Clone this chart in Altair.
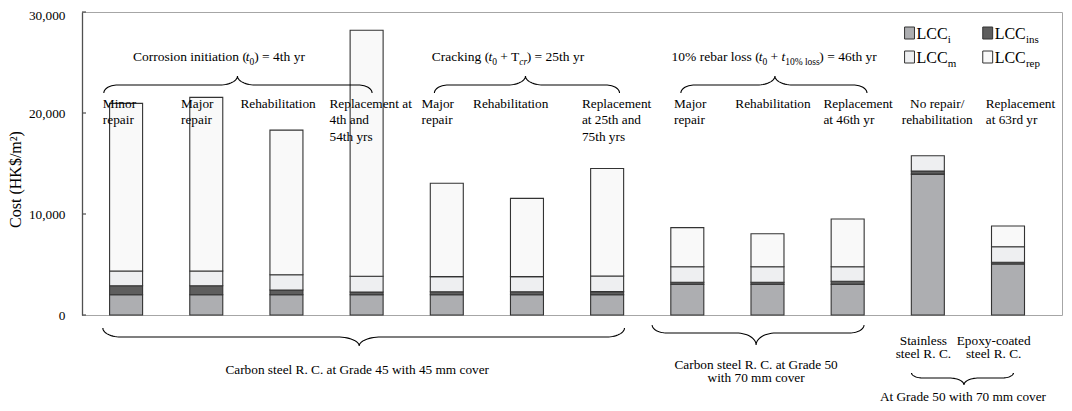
import math
import altair as alt
import pandas as pd

# ---------------- data ----------------
categories = [
    "Minor repair", "Major repair", "Rehabilitation", "Replacement at 4th and 54th yrs",
    "Major repair", "Rehabilitation", "Replacement at 25th and 75th yrs",
    "Major repair", "Rehabilitation", "Replacement at 46th yr",
    "No repair/rehabilitation", "Replacement at 63rd yr",
]
lcc_i = [2000, 2000, 2000, 2000, 2000, 2000, 2000, 3050, 3050, 3050, 13950, 5050]
lcc_ins = [900, 900, 480, 280, 300, 300, 310, 190, 190, 290, 310, 170]
lcc_m = [1450, 1450, 1510, 1550, 1500, 1500, 1550, 1540, 1540, 1440, 1510, 1540]
lcc_rep = [16600, 17200, 14310, 24370, 9250, 7750, 10640, 3870, 3270, 4720, 0, 2050]
components = ["LCCi", "LCCins", "LCCm", "LCCrep"]
component_subs = ["i", "ins", "m", "rep"]
y_ticks = [0, 10000, 20000, 30000]

bar_labels = [
    "Minor\nrepair", "Major\nrepair", "Rehabilitation", "Replacement at\n4th and\n54th yrs",
    "Major\nrepair", "Rehabilitation", "Replacement\nat 25th and\n75th yrs",
    "Major\nrepair", "Rehabilitation", "Replacement\nat 46th yr",
    "No repair/\nrehabilitation", "Replacement\nat 63rd yr",
]
group_titles = [
    [("Corrosion initiation (", "n"), ("t", "i"), ("0", "s"), (") = 4th yr", "n")],
    [("Cracking (", "n"), ("t", "i"), ("0", "s"), (" + T", "n"), ("cr", "si"), (") = 25th yr", "n")],
    [("10% rebar loss (", "n"), ("t", "i"), ("0", "s"), (" + ", "n"), ("t", "i"),
     ("10% loss", "s"), (") = 46th yr", "n")],
]
bottom_texts = [
    "Carbon steel R. C. at Grade 45 with 45 mm cover",
    "Carbon steel R. C. at Grade 50\nwith 70 mm cover",
    "Stainless\nsteel R. C.",
    "Epoxy-coated\nsteel R. C.",
    "At Grade 50 with 70 mm cover",
]

# ---------------- layout / style ----------------
FONT = "Liberation Serif"
W, H = 980, 303
PLOT_LEFT, PLOT_TOP = 82, 12          # page pixels of the plot origin
STEP, FIRST = 81.0, 121.5             # bar spacing and first bar centre (page px)
XD0 = 1 - (FIRST - PLOT_LEFT) / STEP
XD1 = XD0 + W / STEP
YMAX = 30000
colors = ["#adaeb1", "#5e5e5e", "#eeeff1", "#f9f9f9"]


def xi(px):
    return XD0 + (px - PLOT_LEFT) / STEP


def yv(py):
    return (PLOT_TOP + H - py) * YMAX / H


xscale = alt.Scale(domain=[XD0, XD1], nice=False, zero=False)
yscale = alt.Scale(domain=[0, YMAX], nice=False)
yaxis = alt.Axis(values=y_ticks, labelExpr="format(datum.value, ',')", title="Cost (HK$/m²)",
                 ticks=False, tickSize=0,
                 labelOffset={"condition": {"test": "datum.value >= 30000", "value": 3}, "value": 0},
                 labelPadding=17, domainColor="#505050", domainWidth=1.3, grid=False,
                 labelFont=FONT, labelFontSize=13.3, labelColor="black",
                 titleFont=FONT, titleFontSize=16, titleFontWeight="normal", titleColor="black",
                 titleX=-67, titleY=167, titleBaseline="middle")

# Times/Liberation Serif advance widths (per 1000 em) for layout of rich text
TW = {" ": 250, "(": 333, ")": 333, "=": 564, "+": 564, "%": 833, ".": 250, "/": 278, "-": 333,
      "a": 444, "b": 500, "c": 444, "d": 500, "e": 444, "g": 500, "h": 500, "i": 278, "k": 500,
      "l": 278, "m": 778, "n": 500, "o": 500, "p": 500, "r": 333, "s": 389, "t": 278, "v": 500,
      "w": 722, "x": 500, "y": 500, "C": 667, "T": 611, "R": 667, "L": 611, "G": 722, "A": 722}
for d in "0123456789":
    TW[d] = 500


def twidth(s, size):
    return sum(TW.get(c, 500) for c in s) * size / 1000.0


# ---------------- bars ----------------
rows = []
for k, cat in enumerate(categories):
    for j, (comp, vals) in enumerate(zip(components, [lcc_i, lcc_ins, lcc_m, lcc_rep])):
        if vals[k] > 0:
            rows.append({"idx": k + 1, "cat": cat, "comp": comp, "value": vals[k], "ord": j})
bar_df = pd.DataFrame(rows)

bars = alt.Chart(bar_df).mark_bar(size=33, stroke="#333333", strokeWidth=1.1).encode(
    x=alt.X("idx:Q", scale=xscale, axis=None),
    y=alt.Y("value:Q", stack="zero", scale=yscale, axis=yaxis),
    color=alt.Color("comp:N", scale=alt.Scale(domain=components, range=colors), legend=None),
    order=alt.Order("ord:Q"),
)

# inward tick marks on the y axis
tick_df = pd.DataFrame({"value": y_ticks})
ticks = alt.Chart(tick_df).mark_rule(color="#505050", strokeWidth=1.2).encode(
    y=alt.Y("value:Q", scale=yscale, axis=yaxis), x=alt.value(0), x2=alt.value(4))


def text_layer(df, align, size=13.3, style="normal", lh=16.5, baseline="alphabetic"):
    return alt.Chart(df).mark_text(font=FONT, fontSize=size, fontStyle=style, align=align,
                                   baseline=baseline, lineBreak="\n", lineHeight=lh,
                                   color="black").encode(
        x=alt.X("x:Q", scale=xscale, axis=None),
        y=alt.Y("value:Q", scale=yscale, axis=yaxis),
        text="t:N")


# ---------------- bar labels ----------------
label_px = [98, 177, 237, 327, 420, 472, 582, 675, 737, 826, 941, 990]
label_align = ["left"] * 10 + ["center", "left"]
lab_df = pd.DataFrame({"x": [xi(p) for p in label_px], "value": [yv(107.5)] * 12,
                       "t": bar_labels, "al": label_align})
labels_left = text_layer(lab_df[lab_df.al == "left"], "left")
labels_center = text_layer(lab_df[lab_df.al == "center"], "center")

# ---------------- group titles (rich text) ----------------
FS, SUBFS, SUBDY = 13.5, 9.5, 3.5
title_centers = [215, 507, 776]
title_base = 61
parts = []
for segs, cx in zip(group_titles, title_centers):
    widths = [twidth(s, SUBFS if "s" in st else FS) for s, st in segs]
    x = cx - sum(widths) / 2
    for (s, st), w in zip(segs, widths):
        size = SUBFS if "s" in st else FS
        lead = len(s) - len(s.lstrip(" "))
        parts.append({"x": xi(x + twidth(" " * lead, size)),
                      "value": yv(title_base + (SUBDY if "s" in st else 0)),
                      "t": s.strip(" "), "st": st})
        x += w
parts_df = pd.DataFrame(parts)
gt_n = text_layer(parts_df[parts_df.st == "n"], "left", size=FS)
gt_i = text_layer(parts_df[parts_df.st == "i"], "left", size=FS, style="italic")
gt_s = text_layer(parts_df[parts_df.st == "s"], "left", size=SUBFS)
gt_si = text_layer(parts_df[parts_df.st == "si"], "left", size=SUBFS, style="italic")

# ---------------- bottom texts ----------------
bt_px = [(355, 373.5), (758, 368.5), (927, 344.5), (998, 344.5), (967, 400.5)]
bt_df = pd.DataFrame({"x": [xi(p[0]) for p in bt_px], "value": [yv(p[1]) for p in bt_px],
                      "t": bottom_texts})
bottom_layer = text_layer(bt_df, "center", lh=13.5)

# ---------------- braces ----------------
brace_specs = [
    # x0, xm, x1, y_end, y_mid, y_tip, a, b   (page px)
    (99, 234, 370, 93, 85, 76, 14, 18),
    (433, 525, 620, 93, 85, 76, 14, 18),
    (682, 777, 870, 93, 85, 76, 14, 18),
    (98, 357, 625, 328, 337, 346, 18, 22),
    (653, 758, 867, 325, 333, 345, 15, 20),
    (915, 968, 1018, 373, 378, 385, 12, 15),
]


def brace_pts(x0, xm, x1, ye, ymid, ytip, a, b, n=14):
    pts = []
    for k in range(n + 1):
        t = k / n * math.pi / 2
        pts.append((x0 + a * (1 - math.cos(t)), ye + (ymid - ye) * math.sin(t)))
    for k in range(n + 1):
        t = k / n * math.pi / 2
        pts.append((xm - b + b * math.sin(t), ymid + (ytip - ymid) * (1 - math.cos(t))))
    for k in range(n + 1):
        t = k / n * math.pi / 2
        pts.append((xm + b * (1 - math.cos(t)), ytip + (ymid - ytip) * math.sin(t)))
    for k in range(n + 1):
        t = k / n * math.pi / 2
        pts.append((x1 - a + a * math.sin(t), ymid + (ye - ymid) * (1 - math.cos(t))))
    return pts


brows = []
for bid, spec in enumerate(brace_specs):
    for s, (px, py) in enumerate(brace_pts(*spec)):
        brows.append({"bid": bid, "seq": s, "x": xi(px), "value": yv(py)})
brace_df = pd.DataFrame(brows)
braces = alt.Chart(brace_df).mark_line(color="black", strokeWidth=1.1).encode(
    x=alt.X("x:Q", scale=xscale, axis=None),
    y=alt.Y("value:Q", scale=yscale, axis=yaxis),
    detail="bid:N", order="seq:Q")

# ---------------- legend ----------------
leg_cols = [908, 987]
leg_rows = [33, 57]
leg_sq, leg_txt, leg_sub = [], [], []
for j, (comp, sub) in enumerate(zip(components, component_subs)):
    cx = leg_cols[j % 2]
    cy = leg_rows[j // 2]
    leg_sq.append({"x": xi(cx), "x2": xi(cx + 10), "value": yv(cy - 6), "v2": yv(cy + 6), "comp": comp})
    leg_txt.append({"x": xi(cx + 12), "value": yv(cy + 5.5), "t": "LCC"})
    leg_sub.append({"x": xi(cx + 12 + twidth("LCC", 16) + 0.5), "value": yv(cy + 10), "t": sub})
leg_sq_df = pd.DataFrame(leg_sq)
legend_sq = alt.Chart(leg_sq_df).mark_rect(stroke="#333333", strokeWidth=1).encode(
    x=alt.X("x:Q", scale=xscale, axis=None), x2="x2:Q",
    y=alt.Y("value:Q", scale=yscale, axis=yaxis), y2="v2:Q",
    color=alt.Color("comp:N", scale=alt.Scale(domain=components, range=colors), legend=None))
legend_txt = text_layer(pd.DataFrame(leg_txt), "left", size=16)
legend_sub = text_layer(pd.DataFrame(leg_sub), "left", size=11)

chart = alt.layer(
    bars, ticks, labels_left, labels_center, gt_n, gt_i, gt_s, gt_si,
    bottom_layer, braces, legend_sq, legend_txt, legend_sub,
).properties(
    width=W, height=H,
    autosize=alt.AutoSizeParams(type="none"),
    padding={"left": 74, "top": 4, "right": 2, "bottom": 88},
).configure_view(stroke="#a6a6a6", strokeWidth=1)

chart.save("out.html", embed_options={"renderer": "svg", "actions": False})
